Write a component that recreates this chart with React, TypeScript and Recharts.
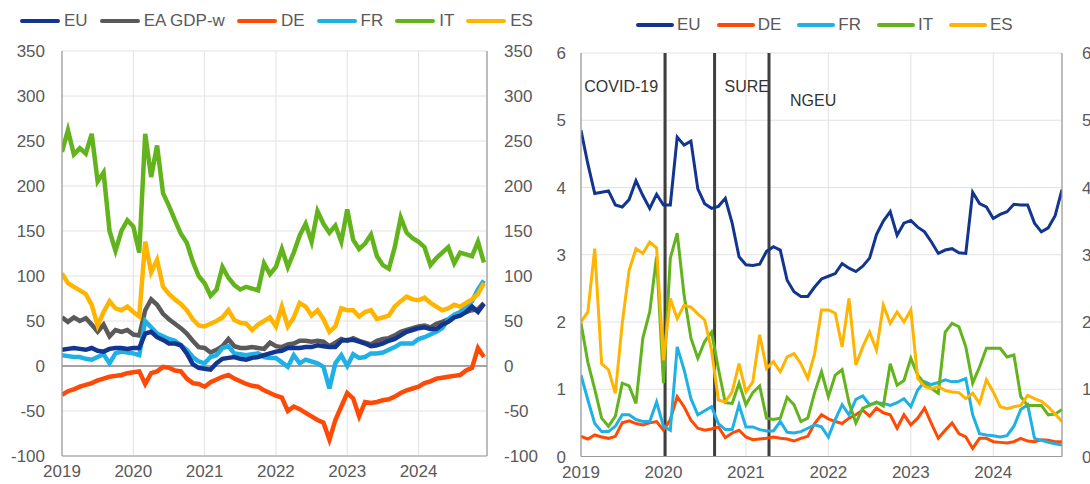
import { LineChart, Line, XAxis, YAxis, CartesianGrid, ReferenceLine } from 'recharts'

const FONT = '"Liberation Sans", Arial, sans-serif'
const TICK = '#595959'

const years = [2019, 2020, 2021, 2022, 2023, 2024]

// left panel: spreads, monthly Jan 2019 - Dec 2024
const spreadEU = [18, 19, 20, 19, 18, 20, 17, 16, 19, 20, 20, 19, 20, 20, 36, 38, 32, 29, 25, 25, 23, 14, 2, -2, -3, -4, 3, 8, 9, 10, 8, 7, 9, 10, 12, 14, 16, 17, 20, 20, 20, 21, 21, 23, 22, 21, 21, 28, 29, 29, 27, 25, 22, 23, 25, 28, 30, 34, 38, 40, 42, 43, 41, 41, 46, 49, 54, 56, 60, 66, 60, 69]
const spreadGDP = [54, 49, 54, 50, 53, 46, 38, 46, 33, 40, 38, 40, 35, 34, 62, 74, 68, 58, 52, 47, 42, 36, 28, 21, 20, 15, 18, 22, 30, 22, 20, 20, 21, 20, 19, 26, 22, 21, 24, 25, 28, 28, 27, 28, 27, 22, 26, 30, 28, 31, 28, 26, 24, 28, 30, 31, 34, 38, 40, 42, 44, 45, 43, 47, 49, 52, 55, 58, 60, 62, 63, 70]
const spreadDE = [-32, -28, -26, -23, -21, -19, -16, -14, -12, -11, -10, -8, -7, -6, -20, -8, -6, -1, -2, -5, -6, -14, -19, -20, -23, -18, -15, -12, -10, -14, -17, -20, -22, -23, -27, -30, -33, -35, -50, -45, -48, -52, -56, -60, -63, -82, -60, -45, -30, -36, -56, -40, -41, -40, -38, -37, -34, -30, -27, -25, -23, -19, -17, -14, -13, -12, -11, -10, -5, -2, 20, 10]
const spreadFR = [12, 11, 10, 10, 8, 7, 10, 13, 3, 14, 16, 15, 14, 12, 50, 43, 36, 33, 30, 28, 23, 18, 10, 5, 3, 10, 12, 20, 22, 14, 13, 12, 13, 14, 10, 9, 9, 4, -1, 12, 3, 7, 5, 3, -1, -25, 3, 12, 0, 13, 9, 10, 14, 14, 15, 18, 21, 25, 25, 25, 30, 32, 35, 38, 42, 52, 57, 60, 66, 72, 85, 95]
const spreadIT = [238, 262, 235, 242, 236, 258, 205, 215, 150, 128, 150, 162, 155, 126, 258, 210, 245, 192, 178, 162, 147, 137, 116, 100, 92, 78, 85, 110, 98, 90, 85, 88, 86, 84, 114, 102, 110, 130, 110, 126, 145, 158, 138, 172, 158, 148, 156, 138, 174, 140, 130, 136, 146, 122, 112, 108, 132, 165, 148, 142, 138, 132, 112, 120, 126, 132, 114, 126, 124, 122, 138, 115]
const spreadES = [103, 92, 88, 84, 80, 68, 45, 60, 72, 64, 62, 66, 60, 55, 138, 104, 118, 88, 80, 74, 69, 62, 52, 45, 44, 47, 50, 54, 62, 51, 48, 47, 40, 46, 50, 54, 44, 66, 44, 54, 70, 66, 56, 62, 52, 38, 44, 64, 62, 62, 55, 60, 62, 52, 54, 56, 66, 72, 77, 74, 73, 76, 70, 66, 62, 64, 68, 66, 70, 74, 80, 92]
const spreadTicks = [-100, -50, 0, 50, 100, 150, 200, 250, 300, 350]

// right panel: monthly Jan 2019 - Nov 2024
const shareEU = [4.85, 4.35, 3.91, 3.93, 3.95, 3.74, 3.71, 3.82, 4.1, 3.88, 3.69, 3.9, 3.74, 3.74, 4.75, 4.63, 4.69, 3.98, 3.76, 3.69, 3.72, 3.84, 3.47, 2.97, 2.85, 2.84, 2.86, 3.05, 3.12, 3.07, 2.62, 2.45, 2.38, 2.38, 2.52, 2.64, 2.68, 2.72, 2.87, 2.8, 2.75, 2.83, 2.95, 3.3, 3.5, 3.64, 3.29, 3.47, 3.51, 3.41, 3.34, 3.19, 3.02, 3.07, 3.09, 3.03, 3.02, 3.93, 3.76, 3.71, 3.54, 3.6, 3.64, 3.75, 3.74, 3.74, 3.47, 3.34, 3.4, 3.58, 3.97]
const shareDE = [0.3, 0.26, 0.32, 0.29, 0.27, 0.3, 0.5, 0.53, 0.49, 0.47, 0.5, 0.52, 0.39, 0.55, 0.89, 0.74, 0.54, 0.42, 0.39, 0.41, 0.44, 0.28, 0.35, 0.39, 0.29, 0.25, 0.26, 0.27, 0.29, 0.27, 0.26, 0.23, 0.27, 0.3, 0.49, 0.62, 0.56, 0.52, 0.49, 0.57, 0.62, 0.69, 0.6, 0.72, 0.65, 0.62, 0.42, 0.62, 0.47, 0.57, 0.72, 0.49, 0.27, 0.39, 0.5, 0.34, 0.29, 0.12, 0.27, 0.27, 0.22, 0.21, 0.2, 0.22, 0.27, 0.23, 0.22, 0.25, 0.24, 0.22, 0.22]
const shareFR = [1.21, 0.84, 0.49, 0.37, 0.37, 0.45, 0.62, 0.62, 0.55, 0.52, 0.52, 0.81, 0.45, 0.39, 1.63, 1.29, 0.86, 0.62, 0.68, 0.74, 0.49, 0.4, 0.4, 0.77, 0.44, 0.44, 0.4, 0.38, 0.38, 0.52, 0.36, 0.35, 0.37, 0.42, 0.47, 0.44, 0.29, 0.55, 0.77, 0.62, 0.85, 0.9, 0.77, 0.8, 0.79, 0.76, 0.8, 0.86, 0.74, 0.99, 1.11, 1.07, 1.1, 1.14, 1.11, 1.12, 1.16, 0.62, 0.34, 0.32, 0.31, 0.29, 0.31, 0.45, 0.7, 0.77, 0.27, 0.24, 0.21, 0.19, 0.17]
const shareIT = [1.98, 1.4, 1.0, 0.57, 0.45, 0.6, 1.09, 1.05, 0.79, 1.76, 2.15, 2.97, 1.09, 2.95, 3.32, 2.4, 1.76, 1.46, 1.71, 1.85, 1.3, 0.8, 0.79, 1.09, 0.77, 0.95, 1.05, 0.57, 0.55, 0.57, 0.88, 0.77, 0.52, 0.57, 0.95, 1.26, 0.89, 1.21, 1.29, 0.8, 0.5, 0.72, 0.76, 0.81, 0.75, 1.38, 1.06, 1.13, 1.46, 1.21, 1.09, 1.01, 0.94, 1.85, 1.98, 1.93, 1.63, 1.09, 1.33, 1.61, 1.61, 1.61, 1.48, 1.51, 0.89, 0.76, 0.76, 0.76, 0.62, 0.63, 0.7]
const shareES = [2.0, 2.15, 3.09, 1.38, 1.29, 0.94, 1.98, 2.77, 3.09, 3.02, 3.19, 3.1, 1.43, 2.35, 2.05, 2.25, 2.22, 2.12, 2.03, 1.58, 0.84, 0.81, 0.96, 1.38, 0.96, 1.11, 1.81, 1.31, 1.41, 1.26, 1.48, 1.53, 1.38, 1.16, 1.53, 2.18, 2.18, 2.13, 1.63, 2.35, 1.36, 1.63, 1.85, 1.58, 2.25, 1.98, 2.15, 2.0, 2.18, 1.16, 1.04, 1.01, 1.04, 0.98, 0.96, 0.95, 0.86, 0.94, 0.79, 1.14, 0.96, 0.74, 0.71, 0.74, 0.76, 0.91, 0.86, 0.82, 0.74, 0.63, 0.52]
const shareTicks = [0, 1, 2, 3, 4, 5, 6]

const events = [
  { t: 2020.02, label: 'COVID-19' },
  { t: 2020.62, label: 'SURE' },
  { t: 2021.28, label: 'NGEU' },
]

const C = {
  EU: '#12358f',
  GDP: '#5a5a5a',
  DE: '#ff4a05',
  FR: '#1fb1e6',
  IT: '#62b31c',
  ES: '#ffb400',
}

const leftData = spreadEU.map((v, i) => ({
  t: 2019 + i / 12,
  EU: v,
  GDP: spreadGDP[i],
  DE: spreadDE[i],
  FR: spreadFR[i],
  IT: spreadIT[i],
  ES: spreadES[i],
}))

const rightData = shareEU.map((v, i) => ({
  t: 2019 + i / 12,
  EU: v,
  DE: shareDE[i],
  FR: shareFR[i],
  IT: shareIT[i],
  ES: shareES[i],
}))

function LegendRow({ items, left, top, lineW, textGap, itemGap }: {
  items: { key: string; label: string }[]
  left: number
  top: number
  lineW: number
  textGap: number
  itemGap: number
}) {
  return (
    <div style={{ position: 'absolute', left, top, display: 'flex', alignItems: 'center', fontFamily: FONT, fontSize: 17, color: TICK, whiteSpace: 'nowrap' }}>
      {items.map((it, i) => (
        <div key={it.key} style={{ display: 'flex', alignItems: 'center', marginLeft: i === 0 ? 0 : itemGap }}>
          <span style={{ display: 'inline-block', width: lineW, height: 4, borderRadius: 2, background: C[it.key as keyof typeof C] }} />
          <span style={{ marginLeft: textGap }}>{it.label}</span>
        </div>
      ))}
    </div>
  )
}

const tickStyle = { fill: TICK, fontSize: 17, fontFamily: FONT }
const axisLine = { stroke: '#9a9a9a', strokeWidth: 1.2 }

function EventLabel(props: any) {
  const { viewBox, value } = props
  const x = viewBox.x
  const top = viewBox.y
  if (value === 'COVID-19') {
    return <text x={x - 7} y={top + 39} textAnchor="end" fontSize={16} fontFamily={FONT} fill="#333">{value}</text>
  }
  if (value === 'SURE') {
    return <text x={x + 10} y={top + 39} textAnchor="start" fontSize={16} fontFamily={FONT} fill="#333">{value}</text>
  }
  return <text x={x + 21} y={top + 53} textAnchor="start" fontSize={16} fontFamily={FONT} fill="#333">{value}</text>
}

function SpreadChart() {
  return (
    <LineChart width={545} height={484} data={leftData} margin={{ top: 51, right: 8, bottom: 0, left: 12 }}>
      <CartesianGrid stroke="#e2e2e2" strokeWidth={1} />
      <XAxis type="number" dataKey="t" domain={[2019, 2024.96]} ticks={years} allowDataOverflow height={28}
        axisLine={axisLine} tickLine={false} tick={tickStyle} tickMargin={3} interval={0} />
      <YAxis domain={[-100, 350]} ticks={spreadTicks} width={50} axisLine={axisLine} tickLine={false}
        tick={tickStyle} tickMargin={11} interval={0} allowDataOverflow />
      <YAxis yAxisId="r" orientation="right" domain={[-100, 350]} ticks={spreadTicks} width={50} axisLine={axisLine}
        tickLine={false} tick={{ ...tickStyle, textAnchor: 'start' }} tickMargin={11} interval={0} allowDataOverflow />
      <ReferenceLine y={0} stroke="#8a8a8a" strokeWidth={1.5} />
      <Line dataKey="GDP" stroke={C.GDP} strokeWidth={4.5} dot={false} isAnimationActive={false} />
      <Line dataKey="FR" stroke={C.FR} strokeWidth={4.5} dot={false} isAnimationActive={false} />
      <Line dataKey="EU" stroke={C.EU} strokeWidth={4.5} dot={false} isAnimationActive={false} />
      <Line dataKey="DE" stroke={C.DE} strokeWidth={4.5} dot={false} isAnimationActive={false} />
      <Line dataKey="ES" stroke={C.ES} strokeWidth={4.5} dot={false} isAnimationActive={false} />
      <Line dataKey="IT" stroke={C.IT} strokeWidth={4.5} dot={false} isAnimationActive={false} />
    </LineChart>
  )
}

function ShareChart() {
  return (
    <LineChart width={545} height={484} data={rightData} margin={{ top: 53, right: 0, bottom: 0, left: 6 }}>
      <CartesianGrid stroke="#e2e2e2" strokeWidth={1} />
      <XAxis type="number" dataKey="t" domain={[2019, 2019 + 70 / 12]} ticks={years} allowDataOverflow height={27.5}
        axisLine={axisLine} tickLine={false} tick={tickStyle} tickMargin={3} interval={0} />
      <YAxis domain={[0, 6]} ticks={shareTicks} width={30} axisLine={axisLine} tickLine={false}
        tick={tickStyle} tickMargin={9} interval={0} allowDataOverflow />
      <YAxis yAxisId="r" orientation="right" domain={[0, 6]} ticks={shareTicks} width={28} axisLine={axisLine}
        tickLine={false} tick={{ ...tickStyle, textAnchor: 'start' }} tickSize={0} tickMargin={20} interval={0} allowDataOverflow />
      {events.map((e) => (
        <ReferenceLine key={e.label} x={e.t} stroke="#3f3f3f" strokeWidth={3} label={<EventLabel value={e.label} />} />
      ))}
      <Line dataKey="DE" stroke={C.DE} strokeWidth={3} dot={false} isAnimationActive={false} />
      <Line dataKey="FR" stroke={C.FR} strokeWidth={3} dot={false} isAnimationActive={false} />
      <Line dataKey="IT" stroke={C.IT} strokeWidth={3} dot={false} isAnimationActive={false} />
      <Line dataKey="ES" stroke={C.ES} strokeWidth={3} dot={false} isAnimationActive={false} />
      <Line yAxisId="r" dataKey="EU" stroke={C.EU} strokeWidth={3} dot={false} isAnimationActive={false} />
    </LineChart>
  )
}

export default function App() {
  return (
    <div style={{ position: 'absolute', left: 0, top: 0, width: 1090, height: 484, background: '#fff', overflow: 'hidden' }}>
      <div style={{ position: 'absolute', left: 0, top: 0 }}>
        <SpreadChart />
      </div>
      <div style={{ position: 'absolute', left: 545, top: 0 }}>
        <ShareChart />
      </div>
      <LegendRow
        left={20} top={11} lineW={40} textGap={4} itemGap={12}
        items={[
          { key: 'EU', label: 'EU' },
          { key: 'GDP', label: 'EA GDP-w' },
          { key: 'DE', label: 'DE' },
          { key: 'FR', label: 'FR' },
          { key: 'IT', label: 'IT' },
          { key: 'ES', label: 'ES' },
        ]}
      />
      <LegendRow
        left={636} top={15} lineW={38} textGap={3} itemGap={16}
        items={[
          { key: 'EU', label: 'EU' },
          { key: 'DE', label: 'DE' },
          { key: 'FR', label: 'FR' },
          { key: 'IT', label: 'IT' },
          { key: 'ES', label: 'ES' },
        ]}
      />
    </div>
  )
}
